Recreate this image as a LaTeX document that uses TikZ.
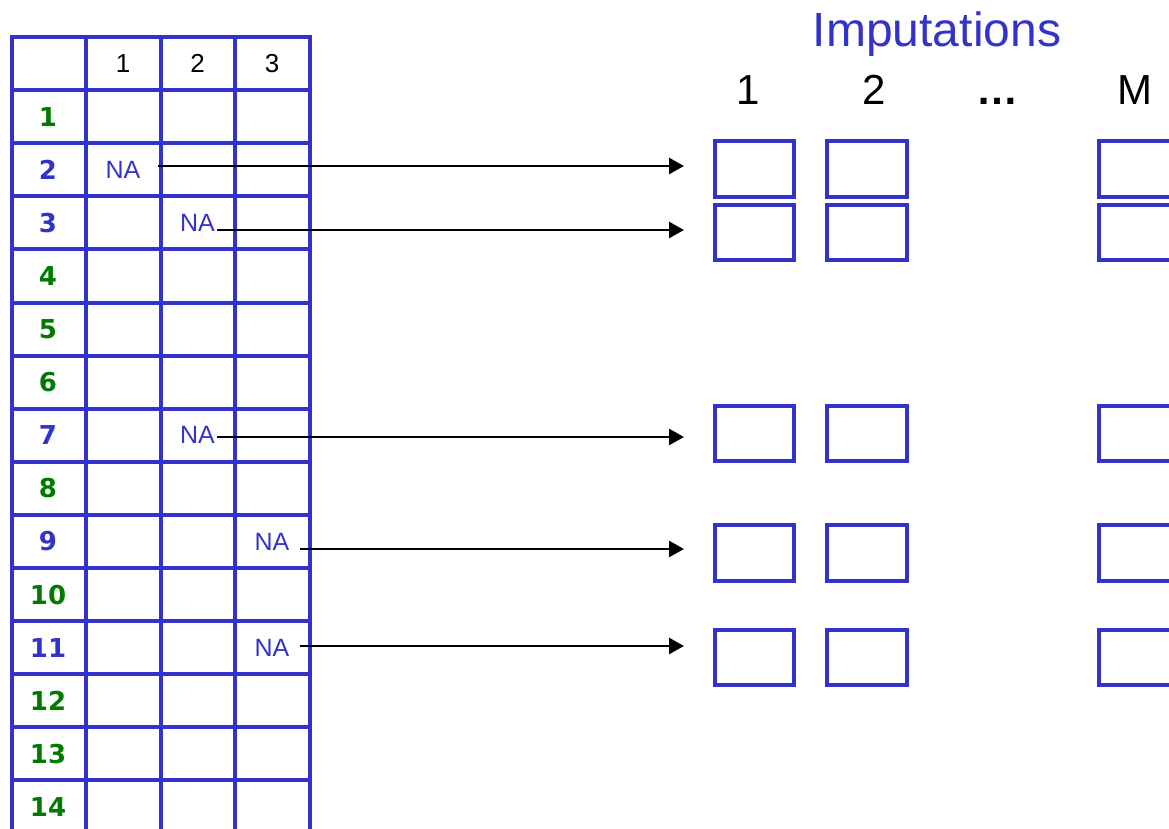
\documentclass[tikz,border=0pt]{standalone}
\usepackage{fontspec}
\setmainfont{Liberation Sans}
\newfontfamily\rowfont{DejaVu Sans}
\usetikzlibrary{arrows.meta}
\definecolor{gBlue}{HTML}{3333CC}
\definecolor{gGreen}{HTML}{007A00}

\begin{document}
\begin{tikzpicture}[x=1pt,y=-1pt]
    \pgfmathsetmacro{\h}{53.1}	%row height
	\pgfmathsetmacro{\ytop}{37}
    \tikzset{
        gridline/.style={draw=gBlue, line width=4pt, line cap=rect},
        rowlab/.style={font=\rowfont\bfseries\fontsize{26}{26}\selectfont},
        colhead/.style={font=\fontsize{26}{26}\selectfont, text=black},
        natext/.style={font=\fontsize{25}{25}\selectfont, text=gBlue, inner sep=0pt},
        imphead/.style={font=\fontsize{42}{42}\selectfont, text=black, anchor=base},
        impbox/.style={draw=gBlue, line width=3.7pt, minimum width=79.5pt, minimum height=55.5pt, inner sep=0pt},
        link/.style={line width=2.6pt, -{Triangle[length=15pt,width=16pt]}}
    };
	\clip (0,0) rectangle (1169,829);
	\fill[white] (0,0) rectangle (1169,829);
	% the data table
	\foreach \k in {0,...,15}
		\draw[gridline] (12,{\ytop+\k*\h}) -- (309.5,{\ytop+\k*\h});
	\foreach \x in {12,86,160.5,235,309.5}
		\draw[gridline] (\x,\ytop) -- (\x,850);
	\foreach \c/\x in {1/123,2/197.5,3/272}
		\node[colhead] (c\c) at (\x,{\ytop+0.5*\h}) {\c};
	\foreach \r/\col in {1/gGreen,2/gBlue,3/gBlue,4/gGreen,5/gGreen,6/gGreen,7/gBlue,8/gGreen,9/gBlue,10/gGreen,11/gBlue,12/gGreen,13/gGreen,14/gGreen}
		\node[rowlab, text=\col] (r\r) at (48,{\ytop+(\r+0.5)*\h}) {\r};
	\foreach \r/\x in {2/123,3/197.5,7/197.5,9/272,11/272}
		\node[natext] (na\r) at (\x,{\ytop+(\r+0.5)*\h}) {NA};
	% imputed values
	\node[font=\fontsize{48}{48}\selectfont, text=gBlue, anchor=base] (imp) at (937,47) {Imputations};
	\node[imphead] (h1) at (748,105) {1};
	\node[imphead] (h2) at (874,105) {2};
	\node[imphead, font=\bfseries\fontsize{42}{42}\selectfont] (hdots) at (997,105) {…};
	\node[imphead] (hM) at (1135,105) {M};
	\foreach \r/\y in {2/169,3/232.5,7/433.5,9/553,11/657.5}{
		\foreach \m/\x in {1/754.5,2/867,M/1138.5}
			\node[impbox] (b\m-\r) at (\x,\y) {};
	}
	\foreach \r/\y/\g in {2/166/17,3/230/2,7/437/2,9/549/10,11/646/10}{
		\coordinate (tip\r) at (684,\y);
		\draw[link, shorten <=\g pt] (na\r.east |- tip\r) -- (tip\r);
	}
\end{tikzpicture}
\end{document}
